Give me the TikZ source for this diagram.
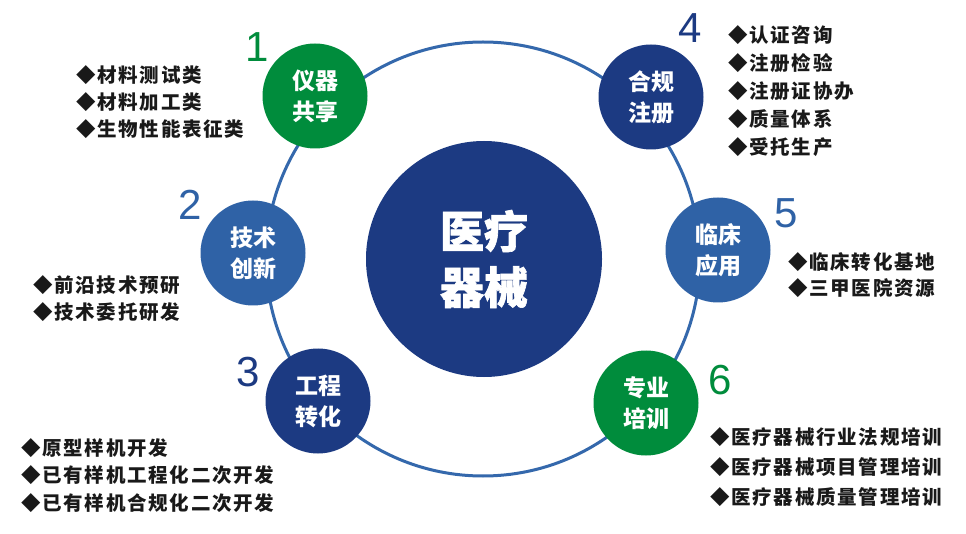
\documentclass[tikz,border=0pt]{standalone}
\usepackage{fontspec}
\newfontfamily\cjk{Noto Sans CJK SC}
\newfontfamily\cjkheavy{Noto Sans CJK SC}[BoldFeatures={FakeBold=1.5}]
\newfontfamily\cjkls{Noto Sans CJK SC}[LetterSpace=9]
\newfontfamily\numfont{Liberation Sans}
\definecolor{cgreen}{RGB}{0,140,60}
\definecolor{cdark}{RGB}{28,58,130}
\definecolor{cmid}{RGB}{47,98,166}
\definecolor{cring}{RGB}{52,104,172}
\begin{document}
\begin{tikzpicture}[x=1pt,y=-1pt,
 small/.style={circle, minimum size=105pt, inner sep=0pt, text=white, font=\cjk\bfseries\fontsize{23}{31}\selectfont, align=center},
 num/.style={font=\numfont\fontsize{42}{42}\selectfont, inner sep=0pt},
 item/.style={anchor=west, inner sep=0pt, font=\cjkls\bfseries\fontsize{19.5}{20}\selectfont, text=black!90}]
\fill[white] (0,0) rectangle (966,534);
\useasboundingbox (0,0) rectangle (966,534);
\coordinate (rc) at (483,259);
\draw[cring, line width=3pt] (rc) circle[radius=217pt];
\node[circle, fill=cdark, minimum size=236pt, inner sep=0pt, text=white, font=\cjkheavy\bfseries\fontsize{44}{56}\selectfont, align=center] (center) at (484,259) {医疗\\器械};
\node[small, fill=cgreen] (c1) at (315,96) {仪器\\共享};
\node[small, fill=cmid] (c2) at (253,253) {技术\\创新};
\node[small, fill=cdark] (c3) at (318,401) {工程\\转化};
\node[small, fill=cdark] (c4) at (651,97) {合规\\注册};
\node[small, fill=cmid] (c5) at (718,250) {临床\\应用};
\node[small, fill=cgreen] (c6) at (646,403) {专业\\培训};
\node[num, text=cgreen] (n1) at (257,47) {1};
\node[num, text=cmid] (n2) at (190,205) {2};
\node[num, text=cdark] (n3) at (248,372) {3};
\node[num, text=cdark] (n4) at (690,28) {4};
\node[num, text=cmid] (n5) at (786,213) {5};
\node[num, text=cgreen] (n6) at (720,380) {6};
\foreach \t [count=\i] in {材料测试类,材料加工类,生物性能表征类}
  \node[item] (a\i) at (76,{75+27*(\i-1)}) {◆\t};
\foreach \t [count=\i] in {前沿技术预研,技术委托研发}
  \node[item] (b\i) at (33,{285+27*(\i-1)}) {◆\t};
\foreach \t [count=\i] in {原型样机开发,已有样机工程化二次开发,已有样机合规化二次开发}
  \node[item] (d\i) at (21,{448+27.5*(\i-1)}) {◆\t};
\foreach \t [count=\i] in {认证咨询,注册检验,注册证协办,质量体系,受托生产}
  \node[item] (e\i) at (728,{35+28*(\i-1)}) {◆\t};
\foreach \t [count=\i] in {临床转化基地,三甲医院资源}
  \node[item] (f\i) at (788,{262+26*(\i-1)}) {◆\t};
\foreach \t [count=\i] in {医疗器械行业法规培训,医疗器械项目管理培训,医疗器械质量管理培训}
  \node[item] (g\i) at (710,{437+30*(\i-1)}) {◆\t};
\end{tikzpicture}
\end{document}
